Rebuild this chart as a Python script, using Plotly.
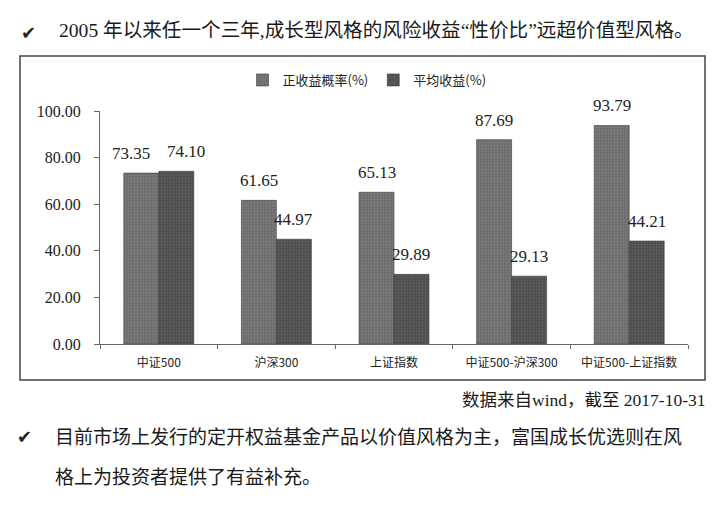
import plotly.graph_objects as go

# Categories and series values
categories = ["中证500", "沪深300", "上证指数", "中证500-沪深300", "中证500-上证指数"]
prob_positive = [73.35, 61.65, 65.13, 87.69, 93.79]   # 正收益概率(%)
avg_return = [74.10, 44.97, 29.89, 29.13, 44.21]      # 平均收益(%)
series_names = ["正收益概率(%)", "平均收益(%)"]
y_ticks = [0, 20, 40, 60, 80, 100]

title_text = "2005 年以来任一个三年,成长型风格的风险收益“性价比”远超价值型风格。"
source_text = "数据来自wind，截至 2017-10-31"
bullet_line1 = "目前市场上发行的定开权益基金产品以价值风格为主，富国成长优选则在风"
bullet_line2 = "格上为投资者提供了有益补充。"

W, H = 720, 510
ML, MR, MT, MB = 100, 32, 111, 166
PW, PH = W - ML - MR, H - MT - MB
BARGAP = 0.405

CJK = "Noto Sans CJK SC"
SERIF = "Liberation Serif, Noto Sans CJK SC"


def px_x(px):
    return (px - ML) / PW


def px_y(py):
    return (H - MB - py) / PH


fig = go.Figure()
colors = ["#6c6c6c", "#4e4e4e"]
grain = ["#939393", "#727272"]
for name, vals, c, g in zip(series_names, [prob_positive, avg_return], colors, grain):
    fig.add_trace(go.Bar(
        name=name, x=categories, y=vals,
        marker=dict(color=c, line=dict(color="#3c3c3c", width=0.6),
                    pattern=dict(shape=".", size=3, solidity=0.3,
                                 fgcolor=g, bgcolor=c)),
    ))

# value labels above each bar
bar_px = PW / len(categories) * (1 - BARGAP) / 2
for cat, v1, v2 in zip(categories, prob_positive, avg_return):
    spread = 10 if abs(v1 - v2) < 4 else 0
    for v, sign in ((v1, -1), (v2, 1)):
        fig.add_annotation(
            x=cat, y=v, text=f"{v:.2f}", showarrow=False,
            xshift=sign * (bar_px / 2 + spread), yshift=8, yanchor="bottom",
            font=dict(family=SERIF, size=17, color="#222"),
        )

# outer frame of the chart
fig.add_shape(type="rect", xref="paper", yref="paper",
              x0=px_x(20), x1=px_x(705), y0=px_y(380), y1=px_y(56),
              line=dict(color="#444", width=1.5), layer="below")

# heading and body text
check_font = dict(family="DejaVu Sans", size=18, color="#222")
fig.add_annotation(xref="paper", yref="paper", x=px_x(28), y=px_y(32),
                   text="✔", showarrow=False, xanchor="center", yanchor="middle",
                   font=check_font)
fig.add_annotation(xref="paper", yref="paper", x=px_x(57), y=px_y(31),
                   text=title_text, showarrow=False, xanchor="left", yanchor="middle",
                   font=dict(family=SERIF, size=19.6, color="#1a1a1a"))
fig.add_annotation(xref="paper", yref="paper", x=px_x(708), y=px_y(400),
                   text=source_text, showarrow=False, xanchor="right", yanchor="middle",
                   font=dict(family=SERIF, size=17.5, color="#1a1a1a"))
fig.add_annotation(xref="paper", yref="paper", x=px_x(24), y=px_y(436),
                   text="✔", showarrow=False, xanchor="center", yanchor="middle",
                   font=check_font)
fig.add_annotation(xref="paper", yref="paper", x=px_x(53), y=px_y(435),
                   text=bullet_line1, showarrow=False, xanchor="left", yanchor="middle",
                   font=dict(family=CJK, size=19, color="#1a1a1a"))
fig.add_annotation(xref="paper", yref="paper", x=px_x(53), y=px_y(475),
                   text=bullet_line2, showarrow=False, xanchor="left", yanchor="middle",
                   font=dict(family=CJK, size=19, color="#1a1a1a"))

fig.update_layout(
    width=W, height=H,
    margin=dict(l=ML, r=MR, t=MT, b=MB),
    paper_bgcolor="white", plot_bgcolor="white",
    barmode="group", bargap=BARGAP, bargroupgap=0,
    showlegend=True,
    legend=dict(orientation="h", x=px_x(367), y=px_y(80), xanchor="center",
                yanchor="middle", font=dict(family=CJK, size=13, color="#222"),
                itemwidth=30, tracegroupgap=0),
    xaxis=dict(type="category", showline=True, linecolor="#666", linewidth=1,
               ticks="outside", tickson="boundaries", ticklen=4, tickcolor="#666",
               ticklabelstandoff=8,
               tickfont=dict(family=CJK, size=12, color="#222"), showgrid=False),
    yaxis=dict(range=[0, 100], tickvals=y_ticks, tickformat=".2f",
               showline=True, linecolor="#666", linewidth=1,
               ticks="outside", ticklen=5, tickcolor="#666",
               ticklabelstandoff=10,
               tickfont=dict(family=SERIF, size=16, color="#222"),
               showgrid=False, zeroline=False),
)

fig.write_html("out.html")
